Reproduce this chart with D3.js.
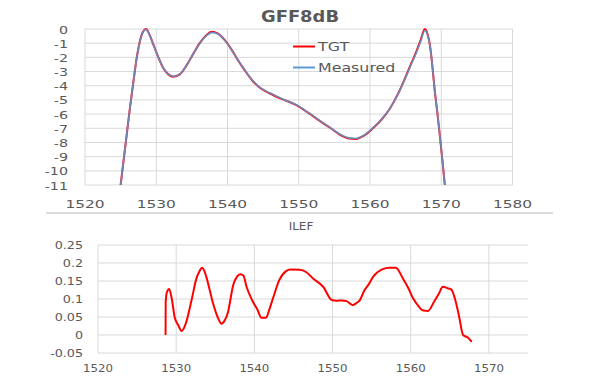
<!DOCTYPE html>
<html><head><meta charset="utf-8">
<script src="https://cdn.jsdelivr.net/npm/d3@7"></script>
<style>body{margin:0;background:#fff}svg{display:block}</style>
</head><body>
<script>
// ---- Top chart data (GFF8dB) ----
const gffWl = [1525, 1525.7, 1526.3, 1526.8, 1527.25, 1527.6, 1527.95, 1528.55, 1529.1, 1529.6, 1530.3, 1531, 1531.7, 1532.4, 1533.3, 1534.3, 1535.2, 1536.1, 1537, 1537.8, 1538.6, 1539.6, 1540.5, 1541.3, 1542.4, 1543.6, 1544.7, 1545.9, 1547.7, 1549.6, 1551.3, 1553, 1554.5, 1555.8, 1556.9, 1558, 1559.2, 1560.4, 1561.6, 1562.8, 1564, 1565.1, 1565.9, 1566.5, 1567.1, 1567.7, 1568.1, 1568.4, 1568.75, 1569.1, 1569.45, 1569.8, 1570.15, 1570.5];
const tgtVals = [-11, -8.1, -5.6, -3.7, -2.06, -1.1, -0.42, 0, -0.45, -1.1, -2.0, -2.77, -3.2, -3.36, -3.2, -2.53, -1.75, -1.0, -0.45, -0.19, -0.3, -0.77, -1.4, -2.06, -2.9, -3.7, -4.2, -4.53, -4.95, -5.35, -5.9, -6.5, -7.0, -7.46, -7.7, -7.75, -7.5, -7.0, -6.4, -5.6, -4.5, -3.25, -2.3, -1.6, -0.8, 0, -0.4, -1.1, -2.6, -4.4, -5.9, -7.5, -9.2, -11];
const measVals = [-11, -8.1, -5.6, -3.7, -2.08, -1.13, -0.46, -0.05, -0.48, -1.12, -2.0, -2.75, -3.18, -3.34, -3.18, -2.52, -1.76, -1.03, -0.5, -0.25, -0.34, -0.79, -1.4, -2.05, -2.88, -3.67, -4.17, -4.5, -4.93, -5.33, -5.88, -6.48, -6.98, -7.42, -7.66, -7.72, -7.47, -6.98, -6.38, -5.6, -4.52, -3.3, -2.36, -1.68, -0.9, -0.12, -0.45, -1.12, -2.6, -4.4, -5.9, -7.5, -9.2, -11];
const gffXTicks = [1520, 1530, 1540, 1550, 1560, 1570, 1580];
const gffYTicks = [0, -1, -2, -3, -4, -5, -6, -7, -8, -9, -10, -11];
const seriesNames = ["TGT", "Measured"];

// ---- Bottom chart data (ILEF) ----
const ilefWl = [1528.64, 1528.66, 1528.8, 1529.1, 1529.4, 1529.83, 1530.26, 1530.7, 1531.2, 1531.97, 1532.6, 1533.0, 1533.3, 1533.6, 1533.9, 1534.7, 1535.3, 1535.8, 1536.2, 1536.6, 1537.3, 1537.8, 1538.2, 1538.6, 1539.0, 1539.8, 1540.4, 1540.9, 1541.5, 1541.9, 1542.4, 1543.2, 1544.1, 1544.6, 1545.8, 1546.6, 1547.5, 1548.8, 1549.9, 1550.5, 1551.2, 1551.8, 1552.2, 1552.6, 1553.0, 1553.5, 1554.1, 1554.6, 1555.2, 1556.4, 1557.3, 1558.1, 1559.0, 1559.7, 1560.3, 1561.0, 1561.5, 1562.2, 1563.0, 1563.6, 1564.1, 1564.7, 1565.2, 1565.8, 1566.2, 1566.7, 1567.3, 1567.8];
const ilefVals = [0, 0.09, 0.118, 0.128, 0.105, 0.047, 0.028, 0.011, 0.03, 0.097, 0.158, 0.178, 0.187, 0.178, 0.158, 0.089, 0.05, 0.031, 0.04, 0.061, 0.139, 0.163, 0.169, 0.165, 0.134, 0.093, 0.07, 0.048, 0.048, 0.07, 0.103, 0.153, 0.178, 0.182, 0.181, 0.175, 0.157, 0.134, 0.097, 0.095, 0.096, 0.094, 0.088, 0.083, 0.088, 0.097, 0.125, 0.14, 0.162, 0.183, 0.187, 0.187, 0.157, 0.13, 0.102, 0.08, 0.069, 0.067, 0.093, 0.115, 0.134, 0.13, 0.126, 0.089, 0.05, 0.0, -0.007, -0.019];
const ilefXTicks = [1520, 1530, 1540, 1550, 1560, 1570];
const ilefYTicks = [0.25, 0.2, 0.15, 0.1, 0.05, 0, -0.05];
const ilefYLabels = ["0.25", "0.2", "0.15", "0.1", "0.05", "0", "-0.05"];

const W = 600, H = 383;
const TXT = "#595959", GRID = "#D9D9D9", FONT = "DejaVu Sans, sans-serif";
const svg = d3.select("body").append("svg").attr("width", W).attr("height", H);

function label(x, y, text, size, sx, anchor, weight) {
  svg.append("text")
    .attr("transform", `translate(${x},${y}) scale(${sx},1)`)
    .attr("text-anchor", anchor || "middle")
    .attr("font-family", FONT).attr("font-size", size)
    .attr("font-weight", weight || "normal")
    .attr("fill", TXT).text(text);
}

// ===== Top chart =====
const x1 = d3.scaleLinear().domain([1520, 1580]).range([85, 512.5]);
const y1 = d3.scaleLinear().domain([-11, 0]).range([185, 29]);
const g1 = svg.append("g");
g1.selectAll("line.h").data(gffYTicks).join("line")
  .attr("x1", x1(1520)).attr("x2", x1(1580))
  .attr("y1", d => y1(d)).attr("y2", d => y1(d))
  .attr("stroke", GRID).attr("stroke-width", 1);
g1.selectAll("line.v").data(gffXTicks).join("line")
  .attr("x1", d => x1(d)).attr("x2", d => x1(d))
  .attr("y1", y1(0)).attr("y2", y1(-11))
  .attr("stroke", GRID).attr("stroke-width", 1);

const line1 = d3.line().x(d => x1(d[0])).y(d => y1(d[1])).curve(d3.curveMonotoneX);
g1.append("path").datum(gffWl.map((w, i) => [w, tgtVals[i]]))
  .attr("d", line1).attr("fill", "none").attr("stroke", "#FF0000").attr("stroke-width", 2);
g1.append("path").datum(gffWl.map((w, i) => [w, measVals[i]]))
  .attr("d", line1).attr("fill", "none").attr("stroke", "#5B9BD5").attr("stroke-width", 1.7).attr("stroke-opacity", 0.85);

gffYTicks.forEach(t => label(68, y1(t) + 4.5, String(t).replace("-", "-"), 11, 1.3, "end"));
gffXTicks.forEach(t => label(x1(t), 208, t, 11, 1.4, "middle"));
label(300, 22, "GFF8dB", 16, 1.12, "middle", "bold");

// legend
const legendColors = ["#FF0000", "#5B9BD5"];
seriesNames.forEach((n, i) => {
  const ly = 46.5 + i * 21;
  svg.append("line").attr("x1", 293).attr("x2", 315).attr("y1", ly).attr("y2", ly)
    .attr("stroke", legendColors[i]).attr("stroke-width", 2);
  label(318, ly + 4.5, n, 12, 1.32, "start");
});

// separator line
svg.append("line").attr("x1", 46).attr("x2", 553).attr("y1", 213).attr("y2", 213)
  .attr("stroke", "#D0D0D0").attr("stroke-width", 1.5);

// ===== Bottom chart =====
const x2 = d3.scaleLinear().domain([1520, 1575]).range([98, 528]);
const y2 = d3.scaleLinear().domain([-0.05, 0.25]).range([353, 245]);
const g2 = svg.append("g");
g2.selectAll("line.h").data(ilefYTicks).join("line")
  .attr("x1", x2(1520)).attr("x2", x2(1575))
  .attr("y1", d => y2(d)).attr("y2", d => y2(d))
  .attr("stroke", GRID).attr("stroke-width", 1);
g2.selectAll("line.v").data(ilefXTicks).join("line")
  .attr("x1", d => x2(d)).attr("x2", d => x2(d))
  .attr("y1", y2(0.25)).attr("y2", y2(-0.05))
  .attr("stroke", GRID).attr("stroke-width", 1);

const line2 = d3.line().x(d => x2(d[0])).y(d => y2(d[1])).curve(d3.curveMonotoneX);
g2.append("path").datum(ilefWl.map((w, i) => [w, ilefVals[i]]))
  .attr("d", line2).attr("fill", "none").attr("stroke", "#FF0000").attr("stroke-width", 2);

ilefYTicks.forEach((t, i) => label(83, y2(t) + 4, ilefYLabels[i], 10, 1.27, "end"));
ilefXTicks.forEach(t => label(x2(t), 372, t, 10, 1.18, "middle"));
label(301, 230, "ILEF", 10, 1.2, "middle");
</script>
</body></html>
